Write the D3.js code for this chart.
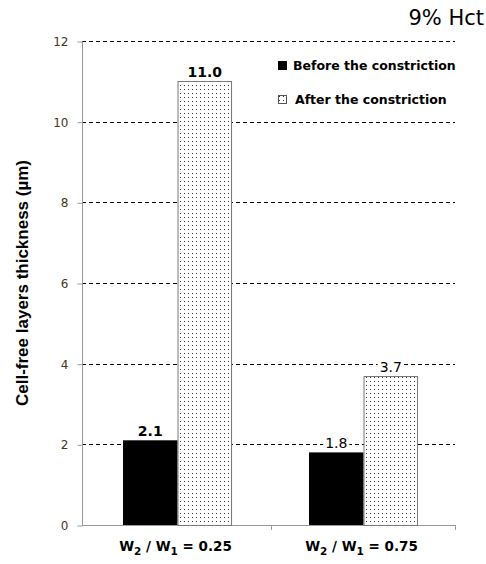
<!DOCTYPE html>
<html>
<head>
<meta charset="utf-8">
<script src="https://cdn.jsdelivr.net/npm/d3@7"></script>
<style>
  body { margin: 0; background: #fff; }
  svg { display: block; font-family: "DejaVu Sans", Verdana, sans-serif; }
</style>
</head>
<body>
<div id="chart"></div>
<script>
// data
var categories = ["0.25", "0.75"];
var seriesNames = ["Before the constriction", "After the constriction"];
var before = [2.1, 1.8];
var after = [11.0, 3.7];
var yTicks = [0, 2, 4, 6, 8, 10, 12];

var w = 486, h = 564;
var plotLeft = 82, plotRight = 455, plotTop = 41, plotBottom = 525;

var svg = d3.select("#chart").append("svg")
  .attr("width", w)
  .attr("height", h);

// dot pattern
var defs = svg.append("defs");
var pat = defs.append("pattern")
  .attr("id", "dots")
  .attr("patternUnits", "userSpaceOnUse")
  .attr("width", 4)
  .attr("height", 4);
pat.append("rect").attr("width", 4).attr("height", 4).attr("fill", "#fff");
pat.append("rect").attr("x", 1).attr("y", 1).attr("width", 1).attr("height", 1).attr("fill", "#333");

var y = d3.scaleLinear().domain([0, 12]).range([plotBottom, plotTop]);
var x0 = d3.scaleBand().domain(categories).range([plotLeft, 459])
  .paddingInner(0.414).paddingOuter(0.22);
var x1 = d3.scaleBand().domain([0, 1]).range([0, x0.bandwidth()]);

// gridlines
svg.selectAll(".grid")
  .data(yTicks.filter(function(d) { return d > 0; }))
  .enter().append("line")
  .attr("x1", plotLeft).attr("x2", plotRight)
  .attr("y1", function(d) { return Math.round(y(d)) + 0.5; })
  .attr("y2", function(d) { return Math.round(y(d)) + 0.5; })
  .attr("stroke", "#000")
  .attr("stroke-width", 1)
  .attr("stroke-dasharray", "4,3");

// y axis
var yAxis = svg.append("g")
  .attr("transform", "translate(" + (plotLeft + 0.5) + ",0.5)")
  .call(d3.axisLeft(y).tickValues(yTicks).tickSize(5).tickPadding(9));
yAxis.select(".domain").attr("stroke", "#999").attr("d", "M0," + plotTop + "V" + plotBottom);
yAxis.selectAll(".tick line").attr("stroke", "#999");
yAxis.selectAll(".tick text")
  .attr("font-family", "DejaVu Sans, Verdana, sans-serif")
  .attr("font-size", "12px")
  .attr("fill", "#4a3318");

// x axis line
svg.append("line")
  .attr("x1", plotLeft).attr("x2", plotRight)
  .attr("y1", plotBottom + 0.5).attr("y2", plotBottom + 0.5)
  .attr("stroke", "#999");
var sepTicks = [(x0(categories[0]) + x0.bandwidth() + x0(categories[1])) / 2, plotRight];
svg.selectAll(".xtick")
  .data(sepTicks)
  .enter().append("line")
  .attr("x1", function(d) { return Math.round(d) + 0.5; })
  .attr("x2", function(d) { return Math.round(d) + 0.5; })
  .attr("y1", plotBottom).attr("y2", plotBottom + 5)
  .attr("stroke", "#999");

// bars
var groups = svg.selectAll(".grp")
  .data(categories)
  .enter().append("g")
  .attr("transform", function(d) { return "translate(" + Math.round(x0(d)) + ",0)"; });

groups.append("rect")
  .attr("x", x1(0))
  .attr("width", x1.bandwidth())
  .attr("y", function(d, i) { return y(before[i]); })
  .attr("height", function(d, i) { return plotBottom - y(before[i]); })
  .attr("fill", "#000");

groups.append("rect")
  .attr("x", x1(1) + 0.5)
  .attr("width", x1.bandwidth() - 1)
  .attr("y", function(d, i) { return Math.round(y(after[i])) + 0.5; })
  .attr("height", function(d, i) { return plotBottom - Math.round(y(after[i])); })
  .attr("fill", "url(#dots)")
  .attr("stroke", "#777")
  .attr("stroke-width", 1);

// value labels
function addLabel(g, vals, s) {
  g.each(function(d, i) {
    var gg = d3.select(this);
    var t = gg.append("text")
      .attr("x", x1(s) + x1.bandwidth() / 2)
      .attr("y", y(vals[i]) - 4)
      .attr("text-anchor", "middle")
      .attr("font-size", "14px")
      .attr("font-weight", i === 0 ? "bold" : "normal")
      .attr("fill", "#000")
      .text(vals[i].toFixed(1));
    var bb = t.node().getBBox();
    gg.insert("rect", "text")
      .attr("x", bb.x - 2).attr("y", bb.y)
      .attr("width", bb.width + 4).attr("height", bb.height)
      .attr("fill", "#fff");
  });
}
addLabel(groups, before, 0);
addLabel(groups, after, 1);

// x labels
groups.each(function(d) {
  var t = d3.select(this).append("text")
    .attr("x", x0.bandwidth() / 2 - 2)
    .attr("y", 551)
    .attr("text-anchor", "middle")
    .attr("font-size", "13.5px")
    .attr("font-weight", "bold")
    .attr("fill", "#000");
  t.append("tspan").text("W");
  t.append("tspan").attr("font-size", "10.5px").attr("dy", 4).text("2");
  t.append("tspan").attr("dy", -4).text(" / W");
  t.append("tspan").attr("font-size", "10.5px").attr("dy", 4).text("1");
  t.append("tspan").attr("dy", -4).text(" = " + d);
});

// y title
svg.append("text")
  .attr("transform", "translate(28,283) rotate(-90)")
  .attr("text-anchor", "middle")
  .attr("font-family", "Liberation Sans, Arial, sans-serif")
  .attr("font-size", "17px")
  .attr("font-weight", "bold")
  .attr("fill", "#000")
  .text("Cell-free layers thickness (µm)");

// title
svg.append("text")
  .attr("x", 484)
  .attr("y", 25)
  .attr("text-anchor", "end")
  .attr("font-size", "21px")
  .attr("fill", "#000")
  .text("9% Hct");

// legend
var legend = svg.selectAll(".leg")
  .data(seriesNames)
  .enter().append("g")
  .attr("transform", function(d, i) { return "translate(278," + (61 + i * 34) + ")"; });
legend.append("rect")
  .attr("x", function(d, i) { return i ? 0.5 : 0; })
  .attr("y", function(d, i) { return i ? 0.5 : 0; })
  .attr("width", function(d, i) { return i ? 8 : 9; })
  .attr("height", function(d, i) { return i ? 8 : 9; })
  .attr("fill", function(d, i) { return i ? "url(#dots)" : "#000"; })
  .attr("stroke", function(d, i) { return i ? "#555" : "none"; });
legend.append("text")
  .attr("x", function(d, i) { return i ? 17 : 15; })
  .attr("y", 9)
  .attr("font-size", "12.5px")
  .attr("font-weight", "bold")
  .attr("fill", "#000")
  .text(function(d) { return d; });
</script>
</body>
</html>
